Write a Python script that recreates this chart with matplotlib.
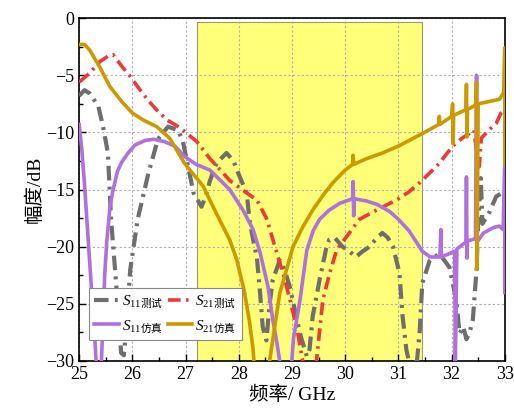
import numpy as np
import matplotlib
matplotlib.use("Agg")
import matplotlib.pyplot as plt
from matplotlib.ticker import MultipleLocator

plt.rcParams['font.family'] = ['Liberation Serif', 'Noto Sans CJK SC']
plt.rcParams['mathtext.fontset'] = 'custom'
plt.rcParams['mathtext.rm'] = 'Noto Sans CJK SC'
plt.rcParams['mathtext.it'] = 'Liberation Serif:italic'
plt.rcParams['mathtext.sf'] = 'Liberation Serif'
nan = np.nan

# S11 measured
s11_meas_f = [25.0, 25.1, 25.2, 25.36, 25.45, 25.54, 25.6, 25.7, 25.76, 25.79, 25.84, 25.88,
              25.96, 26.1, 26.3, 26.48, 26.67, 26.86, 26.95, 27.04, 27.15, 27.3, 27.38, 27.46,
              27.58, 27.77, 27.9, 28.02, 28.15, 28.2, 28.27, 28.34, 28.4, 28.45, 28.52, 28.58,
              28.64, 28.77, 28.86, 28.96, 29.15, 29.28, 29.33, 29.39, 29.52, 29.65, 29.7, 29.8,
              29.95, 30.08, 30.2, 30.33, 30.46, 30.6, 30.7, 30.8, 30.9, 31.02, 31.08, 31.15,
              31.22, 31.35, 31.4, 31.45, 31.59, 31.77, 31.96, 32.09, 32.15, 32.22, 32.28, 32.34,
              32.4, 32.47, 32.5, 32.55, 32.58, 32.71, 32.84, 32.95, 33.0]
s11_meas_db = [-6.8, -6.3, -6.6, -7.7, -9.5, -11.8, -17.6, -23.5, -27.5, -29.3, -29.5, -27.5,
               -22.0, -17.6, -13.6, -10.6, -9.5, -9.8, -10.8, -12.8, -15.3, -16.5, -15.6, -14.2,
               -12.7, -11.8, -12.5, -13.9, -15.3, -17.6, -19.4, -20.9, -24.0, -27.0, -28.2, -25.0,
               -22.9, -21.2, -22.0, -23.5, -27.6, -29.6, -29.0, -26.1, -22.9, -20.0, -19.4, -19.2,
               -20.0, -20.4, -20.9, -20.4, -20.0, -19.2, -18.8, -19.2, -20.0, -22.3, -26.1, -29.0,
               -30.5, -30.0, -27.5, -23.2, -21.2, -20.6, -21.8, -24.7, -27.6, -27.0, -28.1, -27.5,
               -26.4, -22.0, -18.0, -14.0, -18.0, -17.0, -15.6, -15.3, -15.5]

# S21 measured
s21_meas_f = [25.0, 25.2, 25.39, 25.55, 25.64, 25.8, 25.96, 26.1, 26.28, 26.45, 26.65, 26.9,
              27.21, 27.46, 27.83, 28.15, 28.34, 28.53, 28.68, 28.85, 28.96, 29.1, 29.22, nan,
              29.45, 29.58, 29.71, 29.84, 30.03, 30.27, 30.59, 30.97, 31.2, 31.4, 31.6, 31.77,
              32.02, 32.2, 32.33, 32.42, 32.48, 32.52, 32.56, 32.7, 32.84, 32.93, 33.0]
s21_meas_db = [-5.6, -4.8, -3.8, -3.3, -3.2, -4.2, -5.1, -6.0, -7.1, -8.0, -8.9, -9.6,
               -10.8, -12.3, -14.2, -15.3, -15.9, -17.6, -20.0, -22.6, -24.6, -27.3, -30.5, nan,
               -30.5, -24.7, -22.3, -20.3, -19.1, -17.6, -16.8, -15.9, -15.2, -14.4, -13.5, -12.7,
               -11.2, -10.5, -10.1, -9.8, -12.0, -13.0, -10.5, -9.8, -9.2, -8.3, -8.0]

# S11 simulated
s11_sim_f = [25.0, 25.05, 25.1, 25.15, 25.2, 25.25, 25.3, 25.33, nan,
             25.41, 25.45, 25.48, 25.52, 25.58, 25.63, 25.72, 25.8, 25.92, 26.05, 26.24, 26.4,
             26.6, 26.8, 26.98, 27.2, 27.46, 27.83, 28.08, 28.27, 28.4, 28.55, 28.64, 28.72,
             28.77, 28.8, nan,
             28.98, 29.03, 29.15, 29.28, 29.4, 29.52, 29.7, 29.9, 30.14, 30.15, 30.16, 30.17,
             30.4, 30.6, 30.83, 31.0, 31.2, 31.45, 31.6, 31.78, 31.8, 31.81, 31.96, 32.06,
             32.07, 32.1, 32.27, 32.28, 32.29, 32.3, 32.45, 32.47, 32.48, 32.6, 32.8, 32.9,
             32.97, 33.0, 33.0]
s11_sim_db = [-9.3, -11.5, -14.5, -18.0, -21.5, -25.0, -28.5, -31.0, nan,
              -31.0, -26.4, -22.5, -19.5, -16.5, -15.2, -13.4, -12.6, -11.8, -11.1, -10.7, -10.6,
              -10.8, -11.2, -12.1, -12.8, -13.3, -15.0, -16.8, -18.5, -20.5, -23.5, -26.4, -28.5,
              -30.0, -31.0, nan,
              -31.0, -28.0, -24.7, -20.3, -18.6, -17.6, -16.8, -16.2, -15.8, -14.3, -17.3, -15.8,
              -16.0, -16.3, -16.9, -17.6, -18.6, -20.4, -20.9, -20.9, -18.5, -20.9, -20.6, -20.4,
              -31.0, -20.2, -19.6, -13.9, -21.0, -19.5, -19.3, -5.0, -19.6, -18.8, -18.3, -18.2,
              -18.5, -12.8, -24.0]

# S21 simulated
s21_sim_f = [25.0, 25.1, 25.2, 25.3, 25.39, 25.5, 25.58, 25.8, 26.0, 26.2, 26.46, 26.7, 26.98,
             27.33, 27.58, 27.83, 27.96, 28.1, 28.2, 28.27, 28.3, nan,
             28.55, 28.58, 28.77, 29.02, 29.2, 29.39, 29.6, 29.77, 30.0, 30.14, 30.15, 30.16,
             30.4, 30.7, 31.0, 31.45, 31.76, 31.77, 31.78, 32.0, 32.02, 32.03, 32.04, 32.27,
             32.28, 32.29, 32.3, 32.45, 32.47, 32.48, 32.5, 32.7, 32.9, 32.98, 33.0, 33.0]
s21_sim_db = [-2.3, -2.3, -2.8, -3.6, -4.3, -5.3, -6.0, -7.3, -8.3, -8.9, -9.5, -10.5, -12.7,
              -14.7, -17.1, -19.4, -21.1, -23.8, -26.5, -29.0, -31.0, nan,
              -31.0, -30.0, -24.1, -20.0, -18.3, -16.8, -15.4, -14.4, -13.3, -12.8, -12.0, -12.8,
              -12.3, -11.8, -11.2, -10.1, -9.3, -8.6, -9.3, -8.6, -7.5, -11.0, -8.5, -8.0,
              -5.8, -10.4, -8.0, -7.6, -5.6, -22.0, -7.5, -7.3, -7.1, -6.5, -2.6, -12.8]

band = [27.22, 31.45]
band_top = -0.3

fig = plt.figure(figsize=(5.14, 4.13), dpi=100)
ax = fig.add_axes([0.154, 0.126, 0.828, 0.830])

ax.axvspan(band[0], band[1], ymin=0, ymax=(30 + band_top) / 30.0,
           facecolor='#ffff7a', edgecolor='#9a9a70', linewidth=0.8, zorder=1)

dashdot = (0, (3.5, 1.5, 0.7, 1.5))
ax.plot(s11_meas_f, s11_meas_db, color='#6e6e6e', lw=3.0, ls=dashdot,
        label=r'$S_{\mathsf{11}\mathrm{测试}}$', zorder=3)
ax.plot(s11_sim_f, s11_sim_db, color='#b070e0', lw=2.6,
        label=r'$S_{\mathsf{11}\mathrm{仿真}}$', zorder=4)
ax.plot(s21_meas_f, s21_meas_db, color='#f03838', lw=2.6, ls=dashdot,
        label=r'$S_{\mathsf{21}\mathrm{测试}}$', zorder=3)
ax.plot(s21_sim_f, s21_sim_db, color='#cc9900', lw=2.6,
        label=r'$S_{\mathsf{21}\mathrm{仿真}}$', zorder=5)

ax.set_xlim(25, 33)
ax.set_ylim(-30, 0)
ax.xaxis.set_major_locator(MultipleLocator(1))
ax.xaxis.set_minor_locator(MultipleLocator(0.5))
ax.yaxis.set_major_locator(MultipleLocator(5))
ax.yaxis.set_minor_locator(MultipleLocator(2.5))
ax.tick_params(which='both', direction='in', top=False, right=False, labelsize=13)
ax.tick_params(which='major', length=5, width=1)
ax.tick_params(which='minor', length=3, width=1)
ax.grid(True, which='major', color='#b0b0b0', ls=(0, (2, 2)), lw=0.8)
for s in ax.spines.values():
    s.set_linewidth(1.2)

ax.set_xlabel('频率/ GHz', fontsize=14, labelpad=2)
ax.set_ylabel('幅度/dB', fontsize=14, labelpad=2)

leg = ax.legend(loc='lower left', bbox_to_anchor=(0.023, 0.061), ncol=2, fontsize=11,
                fancybox=False, edgecolor='#888888', framealpha=1, handlelength=1.6,
                columnspacing=0.3, handletextpad=0.2, borderpad=0.35, labelspacing=0.5,
                borderaxespad=0)
leg.get_frame().set_linewidth(0.8)

fig.savefig('out.png', dpi=100)
